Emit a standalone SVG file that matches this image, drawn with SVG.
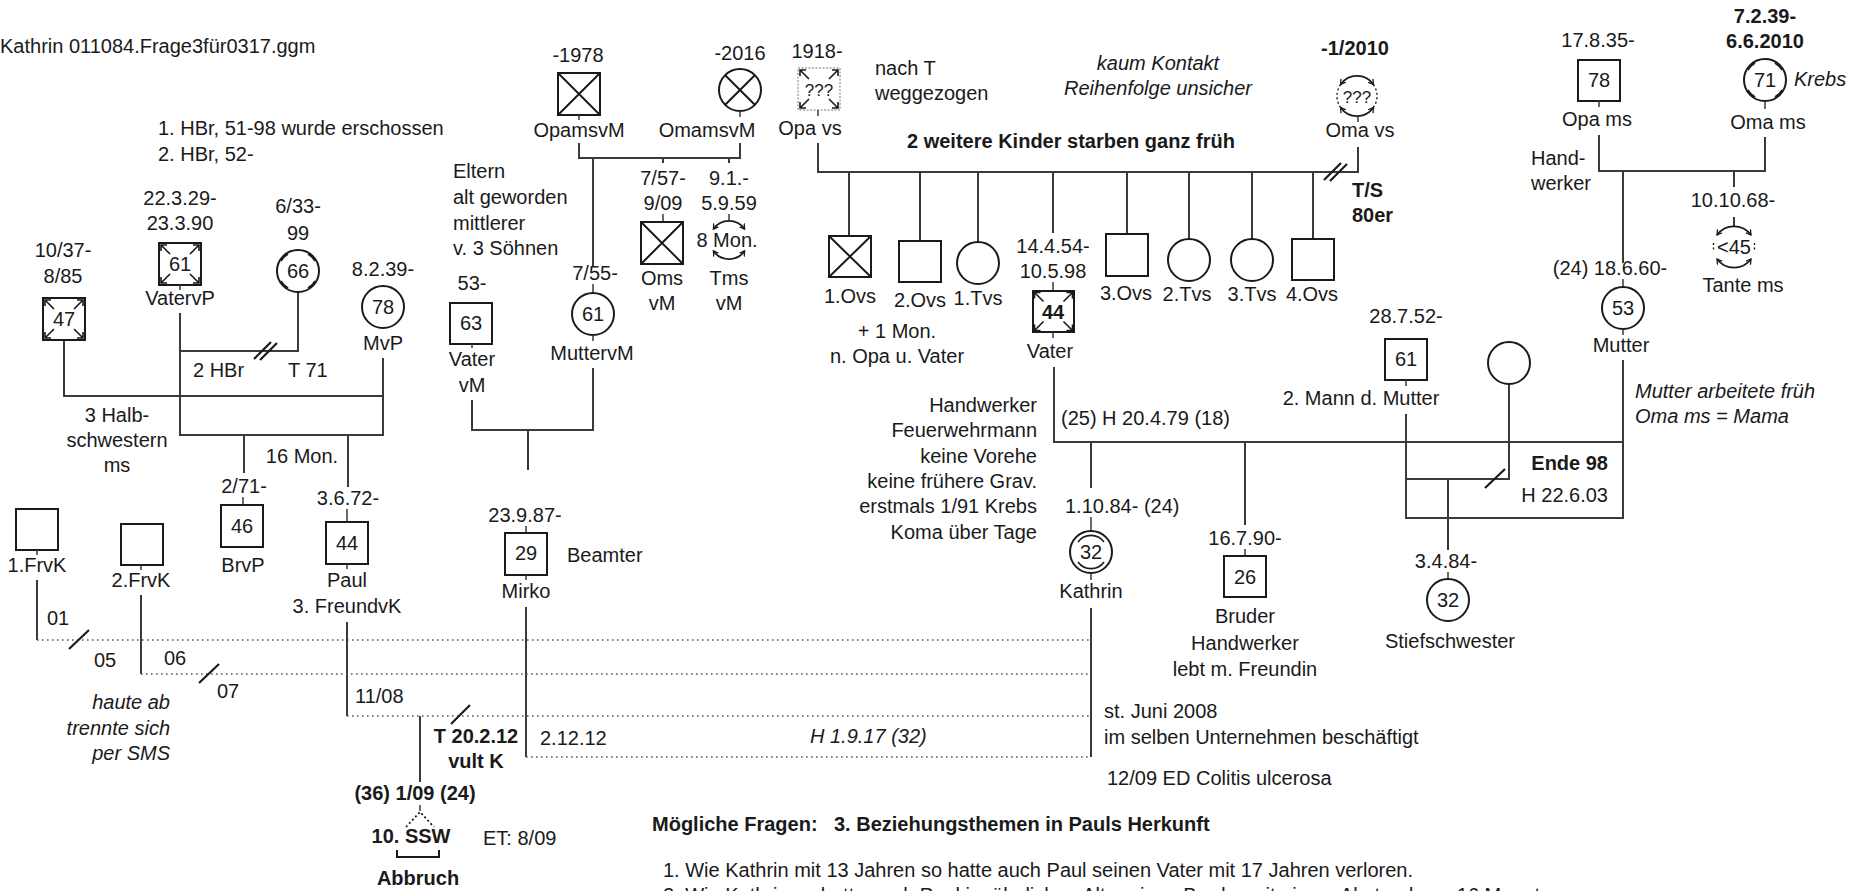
<svg xmlns="http://www.w3.org/2000/svg" width="1858" height="891" viewBox="0 0 1858 891">
<defs>
<style>
text{font-family:"Liberation Sans",Arial,Helvetica,sans-serif;font-size:20px;fill:#1a1a1a}
.m{text-anchor:middle}.e{text-anchor:end}.b{font-weight:bold}.i{font-style:italic}
.s{font-size:17px}
.ln{stroke:#3a3a3a;stroke-width:2;fill:none}
.sl{stroke:#1a1a1a;stroke-width:2.2;fill:none}
.dt{stroke:#555;stroke-width:1.6;stroke-dasharray:1.6 3.4;fill:none}
.nd{stroke:#1a1a1a;stroke-width:2;fill:#fff}
.ar{stroke:#1a1a1a;stroke-width:1.6;fill:none}
.tk{stroke:#3a3a3a;stroke-width:1.5;fill:none}
.arc{stroke:#1a1a1a;stroke-width:1.8;fill:none;marker-start:url(#ah);marker-end:url(#ah)}
.ds{stroke:#1a1a1a;stroke-width:1.4;fill:none;stroke-dasharray:2 2.5}
</style>
<marker id="ah" markerWidth="8" markerHeight="8" refX="5" refY="3.5" orient="auto-start-reverse" markerUnits="userSpaceOnUse"><path d="M0,0.5L5,3.5L0,6.5" fill="none" stroke="#1a1a1a" stroke-width="1.3"/></marker>
<g id="ca" class="ar"><path d="M11,11L2,2M2,8L2,2L8,2M31,11L40,2M34,2L40,2L40,8M11,31L2,40M2,34L2,40L8,40M31,31L40,40M40,34L40,40L34,40"/></g>
<g id="ct" class="ar"><path d="M-17,-10L-14,-14L-10,-17M17,-10L14,-14L10,-17M-17,10L-14,14L-10,17M17,10L14,14L10,17"/></g>
</defs>
<rect width="1858" height="891" fill="#fff"/>

<g id="connectors">
<g class="ln">
<path d="M64,340V396H383"/>
<path d="M180,313V435H383V358"/>
<path d="M180,351H298V292"/>
<path d="M244,435V473"/>
<path d="M348,435V487"/>
<path d="M37,580V640"/>
<path d="M141,595V674"/>
<path d="M347,622V716"/>
<path d="M420,716V782"/>
<path d="M526,607V757"/>
<path d="M579,143V158H740V143"/>
<path d="M593,158V267"/>
<path d="M663,158V163M729,158V163"/>
<path d="M593,368V430H472V400"/>
<path d="M528,430V470"/>
<path d="M818,143V172H1358V147"/>
<path d="M849,172V236M920,172V241M978,172V242M1053,172V233M1127,172V234M1189,172V239M1252,172V239M1313,172V239"/>
<path d="M1599,135V171H1765V137"/>
<path d="M1623,171V263"/>
<path d="M1734,171V187M1734,217V226"/>
<path d="M1054,367V442H1623V360"/>
<path d="M1623,442V518H1406V414"/>
<path d="M1509,384V479H1406"/>
<path d="M1448,479V550"/>
<path d="M1091,442V488M1091,608V757"/>
<path d="M1245,442V525"/>
</g>
<g class="dt">
<path d="M37,640H1090"/>
<path d="M141,674H1090"/>
<path d="M347,716H1090"/>
<path d="M526,757H1090"/>
</g>
<g class="sl">
<path d="M254,359L271,342M260,360L277,343"/>
<path d="M1324,180L1341,163M1330,181L1347,164"/>
<path d="M69,649L89,630"/>
<path d="M199,683L219,664"/>
<path d="M451,724L470,705"/>
<path d="M1485,488L1505,469"/>
</g>
</g>

<g id="n47"><text class="m" x="63" y="257">10/37-</text><text class="m" x="63" y="283">8/85</text><rect class="nd" x="43" y="298" width="42" height="42"/><use href="#ca" x="43" y="298"/><text class="m" x="64" y="326">47</text></g>
<g id="nVatervP"><text class="m" x="180" y="205">22.3.29-</text><text class="m" x="180" y="230">23.3.90</text><rect class="nd" x="159" y="243" width="42" height="42"/><use href="#ca" x="159" y="243"/><text class="m" x="180" y="271">61</text><path class="tk" d="M180,285V290"/><text class="m" x="180" y="305">VatervP</text></g>
<g id="n66"><text class="m" x="298" y="213">6/33-</text><text class="m" x="298" y="240">99</text><circle class="nd" cx="298" cy="271" r="21"/><use href="#ct" x="298" y="271"/><text class="m" x="298" y="278">66</text></g>
<g id="nMvP"><text class="m" x="383" y="276">8.2.39-</text><circle class="nd" cx="383" cy="307" r="21"/><text class="m" x="383" y="314">78</text><text class="m" x="383" y="350">MvP</text></g>
<g id="nBrvP"><text class="m" x="244" y="493">2/71-</text><path class="tk" d="M243,497V505"/><rect class="nd" x="221" y="505" width="42" height="42"/><text class="m" x="242" y="533">46</text><text class="m" x="243" y="572">BrvP</text></g>
<g id="nPaul"><text class="m" x="348" y="505">3.6.72-</text><path class="tk" d="M347,509V522"/><rect class="nd" x="326" y="522" width="42" height="42"/><text class="m" x="347" y="550">44</text><path class="tk" d="M347,564V569"/><text class="m" x="347" y="587">Paul</text><text class="m" x="347" y="613">3. FreundvK</text></g>
<g id="nFrvK1"><rect class="nd" x="16" y="509" width="42" height="41"/><path class="tk" d="M37,550V555"/><text class="m" x="37" y="572">1.FrvK</text></g>
<g id="nFrvK2"><rect class="nd" x="121" y="524" width="42" height="41"/><path class="tk" d="M141,565V570"/><text class="m" x="141" y="587">2.FrvK</text></g>

<g id="nOpamsvM"><text class="m" x="578" y="62">-1978</text><rect class="nd" x="558" y="73" width="42" height="42"/><path class="ar" d="M558,73L600,115M600,73L558,115" style="stroke-width:2"/><path class="tk" d="M579,115V120"/><text class="m" x="579" y="137">OpamsvM</text></g>
<g id="nOmamsvM"><text class="m" x="740" y="60">-2016</text><circle class="nd" cx="740" cy="90" r="21"/><path class="ar" d="M725.2,75.2L754.8,104.8M754.8,75.2L725.2,104.8" style="stroke-width:2"/><path class="tk" d="M740,111V117"/><text class="m" x="707" y="137">OmamsvM</text></g>
<g id="nMuttervM"><text class="m" x="595" y="280">7/55-</text><path class="tk" d="M593,284V293"/><circle class="nd" cx="593" cy="314" r="21"/><text class="m" x="593" y="321">61</text><path class="tk" d="M593,335V341"/><text class="m" x="592" y="360">MuttervM</text></g>
<g id="nOmsvM"><text class="m" x="663" y="185">7/57-</text><text class="m" x="663" y="210">9/09</text><path class="tk" d="M663,214V222"/><rect class="nd" x="641" y="222" width="42" height="42"/><path class="ar" d="M641,222L683,264M683,222L641,264" style="stroke-width:2"/><text class="m" x="662" y="285">Oms</text><text class="m" x="662" y="310">vM</text></g>
<g id="nTmsvM"><text class="m" x="729" y="185">9.1.-</text><text class="m" x="729" y="210">5.9.59</text><path class="tk" d="M729,214V220"/><path class="arc" d="M713.4,229.1A19,19 0 0 1 744.6,229.1"/><path class="arc" d="M713.4,250.9A19,19 0 0 0 744.6,250.9"/><text class="m" x="727" y="247">8 Mon.</text><text class="m" x="729" y="285">Tms</text><text class="m" x="729" y="310">vM</text></g>
<g id="nVatervM"><text class="m" x="472" y="290">53-</text><rect class="nd" x="450" y="303" width="42" height="41"/><text class="m" x="471" y="330">63</text><path class="tk" d="M472,344V348"/><text class="m" x="472" y="366">Vater</text><text class="m" x="472" y="392">vM</text></g>
<g id="nMirko"><text class="m" x="525" y="522">23.9.87-</text><path class="tk" d="M526,526V533"/><rect class="nd" x="505" y="533" width="42" height="42"/><text class="m" x="526" y="560">29</text><path class="tk" d="M526,575V580"/><text class="m" x="526" y="598">Mirko</text><text x="567" y="562">Beamter</text></g>

<g id="nOpavs"><text class="m" x="817" y="58">1918-</text><rect x="798" y="68" width="42" height="42" fill="#fff" stroke="#777" stroke-width="1" stroke-dasharray="2 1.5"/><use href="#ca" x="798" y="68"/><text class="m s" x="819" y="96">???</text><path class="tk" d="M818,110V116"/><text class="m" x="810" y="135">Opa vs</text></g>
<g id="nOmavs"><text class="m b" x="1355" y="55">-1/2010</text><path class="arc" d="M1340.6,84.5A20,20 0 0 1 1373.4,84.5"/><path class="arc" d="M1340.6,107.5A20,20 0 0 0 1373.4,107.5"/><path class="ds" d="M1340.6,84.5A20,20 0 0 0 1340.6,107.5M1373.4,84.5A20,20 0 0 1 1373.4,107.5"/><text class="m s" x="1357" y="103">???</text><path class="tk" d="M1358,117V122"/><text class="m" x="1360" y="137">Oma vs</text></g>
<g id="n1Ovs"><rect class="nd" x="829" y="236" width="42" height="41"/><path class="ar" d="M829,236L871,277M871,236L829,277" style="stroke-width:2"/><text class="m" x="850" y="303">1.Ovs</text></g>
<g id="n2Ovs"><rect class="nd" x="899" y="241" width="42" height="41"/><text class="m" x="920" y="307">2.Ovs</text></g>
<g id="n1Tvs"><circle class="nd" cx="978" cy="263" r="21"/><text class="m" x="978" y="305">1.Tvs</text></g>
<g id="nVater"><text class="m" x="1053" y="253">14.4.54-</text><text class="m" x="1053" y="278">10.5.98</text><path class="tk" d="M1053,282V291"/><rect class="nd" x="1033" y="291" width="41" height="41"/><use href="#ca" x="1032.5" y="290.5"/><text class="m b" x="1053" y="319">44</text><path class="tk" d="M1053,332V338"/><text class="m" x="1050" y="358">Vater</text></g>
<g id="n3Ovs"><rect class="nd" x="1106" y="234" width="42" height="42"/><text class="m" x="1126" y="300">3.Ovs</text></g>
<g id="n2Tvs"><circle class="nd" cx="1189" cy="260" r="21"/><text class="m" x="1187" y="301">2.Tvs</text></g>
<g id="n3Tvs"><circle class="nd" cx="1252" cy="260" r="21"/><text class="m" x="1252" y="301">3.Tvs</text></g>
<g id="n4Ovs"><rect class="nd" x="1292" y="239" width="42" height="41"/><text class="m" x="1312" y="301">4.Ovs</text></g>

<g id="nOpams"><text class="m" x="1598" y="47">17.8.35-</text><rect class="nd" x="1578" y="60" width="42" height="41"/><text class="m" x="1599" y="87">78</text><path class="tk" d="M1599,101V107"/><text class="m" x="1597" y="126">Opa ms</text></g>
<g id="nOmams"><text class="m b" x="1765" y="23">7.2.39-</text><text class="m b" x="1765" y="48">6.6.2010</text><circle class="nd" cx="1765" cy="80" r="21"/><use href="#ct" x="1765" y="80"/><text class="m" x="1765" y="87">71</text><text class="i" x="1794" y="86">Krebs</text><path class="tk" d="M1765,101V109"/><text class="m" x="1768" y="129">Oma ms</text></g>
<g id="nMutter"><text class="m" x="1610" y="275">(24) 18.6.60-</text><path class="tk" d="M1623,279V287"/><circle class="nd" cx="1623" cy="308" r="21"/><text class="m" x="1623" y="315">53</text><path class="tk" d="M1623,329V335"/><text class="m" x="1621" y="352">Mutter</text></g>
<g id="nTante"><text class="m" x="1733" y="207">10.10.68-</text><path class="arc" d="M1717,235A21,21 0 0 1 1751,235"/><path class="arc" d="M1717,259A21,21 0 0 0 1751,259"/><path class="ds" d="M1713.5,243V251M1754.5,243V251"/><text class="m" x="1734" y="254">&lt;45</text><text class="m" x="1743" y="292">Tante ms</text></g>
<g id="n2Mann"><text class="m" x="1406" y="323">28.7.52-</text><rect class="nd" x="1385" y="339" width="42" height="41"/><text class="m" x="1406" y="366">61</text><path class="tk" d="M1406,380V386"/><text class="m" x="1361" y="405">2. Mann d. Mutter</text></g>
<g id="nCircle"><circle class="nd" cx="1509" cy="363" r="21"/></g>
<g id="nStief"><text class="m" x="1446" y="568">3.4.84-</text><path class="tk" d="M1448,572V579"/><circle class="nd" cx="1448" cy="600" r="21"/><text class="m" x="1448" y="607">32</text><text class="m" x="1450" y="648">Stiefschwester</text></g>
<g id="nKathrin"><text x="1065" y="513">1.10.84- (24)</text><path class="tk" d="M1091,517V531"/><circle class="nd" cx="1091" cy="552" r="21"/><path class="ar" d="M1078,542A16,16 0 0 1 1104,542M1078,562A16,16 0 0 0 1104,562"/><text class="m" x="1091" y="559">32</text><path class="tk" d="M1091,573V580"/><text class="m" x="1091" y="598">Kathrin</text></g>
<g id="nBruder"><text class="m" x="1245" y="545">16.7.90-</text><path class="tk" d="M1245,549V556"/><rect class="nd" x="1224" y="556" width="42" height="41"/><text class="m" x="1245" y="584">26</text><text class="m" x="1245" y="623">Bruder</text><text class="m" x="1245" y="650">Handwerker</text><text class="m" x="1245" y="676">lebt m. Freundin</text></g>
<g id="nPreg"><text class="m b" x="415" y="800">(36) 1/09 (24)</text><path class="tk" d="M420,805V811"/><path class="ds" d="M406,827L420,812L434,827" style="stroke-width:1.8"/><path class="ar" d="M397,850V857H439V850" style="stroke-width:2"/><text class="m b" x="411" y="843">10. SSW</text><text x="483" y="845">ET: 8/09</text><text class="m b" x="418" y="885">Abbruch</text></g>

<g id="notes">
<text x="0" y="53">Kathrin 011084.Frage3für0317.ggm</text>
<text x="158" y="135">1. HBr, 51-98 wurde erschossen</text>
<text x="158" y="161">2. HBr, 52-</text>
<text x="193" y="377">2 HBr</text>
<text x="288" y="377">T 71</text>
<text class="m" x="117" y="422">3 Halb-</text>
<text class="m" x="117" y="447">schwestern</text>
<text class="m" x="117" y="472">ms</text>
<text class="m" x="302" y="463">16 Mon.</text>
<text x="47" y="625">01</text>
<text x="94" y="667">05</text>
<text x="164" y="665">06</text>
<text x="217" y="698">07</text>
<text class="e i" x="170" y="709">haute ab</text>
<text class="e i" x="170" y="735">trennte sich</text>
<text class="e i" x="170" y="760">per SMS</text>
<text x="355" y="703">11/08</text>
<text class="m b" x="476" y="743">T 20.2.12</text>
<text class="m b" x="476" y="768">vult K</text>
<text x="540" y="745">2.12.12</text>
<text class="i" x="810" y="743">H 1.9.17 (32)</text>
<text x="453" y="178">Eltern</text>
<text x="453" y="204">alt geworden</text>
<text x="453" y="230">mittlerer</text>
<text x="453" y="255">v. 3 Söhnen</text>
<text x="875" y="75">nach T</text>
<text x="875" y="100">weggezogen</text>
<text class="m i" x="1158" y="70">kaum Kontakt</text>
<text class="m i" x="1158" y="95">Reihenfolge unsicher</text>
<text class="b" x="907" y="148">2 weitere Kinder starben ganz früh</text>
<text class="b" x="1352" y="197">T/S</text>
<text class="b" x="1352" y="222">80er</text>
<text class="m" x="897" y="338">+ 1 Mon.</text>
<text class="m" x="897" y="363">n. Opa u. Vater</text>
<text x="1531" y="165">Hand-</text>
<text x="1531" y="190">werker</text>
<text class="i" x="1635" y="398">Mutter arbeitete früh</text>
<text class="i" x="1635" y="423">Oma ms = Mama</text>
<text class="e" x="1037" y="412">Handwerker</text>
<text class="e" x="1037" y="437">Feuerwehrmann</text>
<text class="e" x="1037" y="463">keine Vorehe</text>
<text class="e" x="1037" y="488">keine frühere Grav.</text>
<text class="e" x="1037" y="513">erstmals 1/91 Krebs</text>
<text class="e" x="1037" y="539">Koma über Tage</text>
<text x="1061" y="425">(25) H 20.4.79 (18)</text>
<text class="e b" x="1608" y="470">Ende 98</text>
<text class="e" x="1608" y="502">H 22.6.03</text>
<text x="1104" y="718">st. Juni 2008</text>
<text x="1104" y="744">im selben Unternehmen beschäftigt</text>
<text x="1107" y="785">12/09 ED Colitis ulcerosa</text>
<text class="b" x="652" y="831">Mögliche Fragen:</text>
<text class="b" x="834" y="831">3. Beziehungsthemen in Pauls Herkunft</text>
<text x="663" y="877">1. Wie Kathrin mit 13 Jahren so hatte auch Paul seinen Vater mit 17 Jahren verloren.</text>
<text x="663" y="902">2. Wie Kathrin so hatte auch Paul im ähnlichen Alter einen Bruder mit einem Abstand von 16 Monaten.</text>
</g>
</svg>
